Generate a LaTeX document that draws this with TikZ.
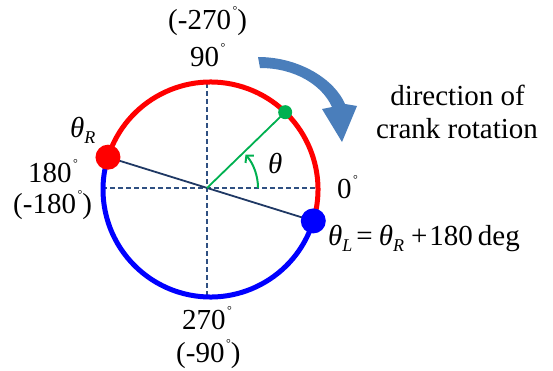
\documentclass[tikz,border=0pt]{standalone}
\usepackage{fontspec}
\setmainfont{Liberation Serif}
\usetikzlibrary{calc,arrows.meta}
\definecolor{axisblue}{RGB}{47,80,130}
\definecolor{crankblue}{RGB}{31,56,100}
\definecolor{rotblue}{RGB}{74,126,187}
\definecolor{thgreen}{RGB}{0,176,80}
\newcommand\degmark{\hspace{1.5pt}\raisebox{15pt}{\fontsize{12}{12}\selectfont °}}
\newcommand\subidx[1]{\raisebox{-6pt}{\fontsize{18}{18}\selectfont\itshape #1}}
\begin{document}
\begin{tikzpicture}[x=1pt,y=1pt,
  lbl/.style={font=\fontsize{29}{33}\selectfont, inner sep=0pt, anchor=base west},
  axisline/.style={draw=axisblue, line width=1.8pt, dash pattern=on 5pt off 3pt},
  arcline/.style={line width=5pt},
  dotnode/.style={circle, inner sep=0pt},
]
\useasboundingbox (0,0) rectangle (553,370);
% centres
\coordinate (O) at (207,182);
\coordinate (C) at (210.5,180.5);
% axis end points
\coordinate (hL) at (102,182);
\coordinate (hR) at (318,182);
\coordinate (vT) at (207,287);
\coordinate (vB) at (207,73);
% points on the circle
\coordinate (pR) at ($(C)+(162.5:107.5)$);
\coordinate (pL) at ($(C)+(-17:107.5)$);
\coordinate (pG) at ($(C)+(46:107.5)$);
\coordinate (pA) at ($(O)+(0:51)$);
% dashed axes
\draw[axisline] (hL) -- (hR);
\draw[axisline] (vT) -- (vB);
% arcs
\draw[arcline, red] (pR) arc[start angle=162.5, end angle=-17, radius=107.5];
\draw[arcline, blue] (pL) arc[start angle=-17, end angle=-197.5, radius=107.5];
% crank
\draw[crankblue, line width=1.8pt] (pR) -- (pL);
% theta line and arrow
\draw[thgreen, line width=1.8pt] (O) -- (pG);
\draw[thgreen, line width=2pt, -{Straight Barb[length=5pt,width=11pt]}] (pA) arc[start angle=0, end angle=41, radius=51];
% dots
\node[dotnode, fill=red, minimum size=25pt] (dR) at (pR) {};
\node[dotnode, fill=blue, minimum size=25pt] (dL) at (pL) {};
\node[dotnode, fill=thgreen, minimum size=14pt] (dG) at (pG) {};
% rotation arrow
\fill[rotblue] (258,313) .. controls (300,313) and (335,290) .. (345,266)
  -- (357,264) -- (342,228) -- (322,261) -- (332,263)
  .. controls (322,285) and (295,302) .. (260,302) -- cycle;
% labels
\node[lbl] (t270) at (168,340) {(-270\degmark)};
\node[lbl] (t90) at (190,303) {90\degmark};
\node[lbl] (t180) at (28,188) {180\degmark};
\node[lbl] (t180n) at (13,157) {(-180\degmark)};
\node[lbl] (tthR) at (70,233) {\itshape θ\subidx{R}};
\node[lbl] (t0) at (337,172) {0\degmark};
\node[lbl] (t270b) at (182,41) {270\degmark};
\node[lbl] (t90n) at (176,8) {(-90\degmark)};
\node[lbl, anchor=base] (tdir1) at (457.5,264) {direction of};
\node[lbl, anchor=base] (tdir2) at (457,232) {crank rotation};
\node[lbl] (tth) at (268,197) {\itshape θ};
\node[lbl] (teq) at (328,125) {{\itshape θ}\subidx{L}\hspace{4pt}=\hspace{6pt}{\itshape θ}\subidx{R}\hspace{7pt}+\hspace{2pt}180\hspace{5pt}deg};
\end{tikzpicture}
\end{document}
